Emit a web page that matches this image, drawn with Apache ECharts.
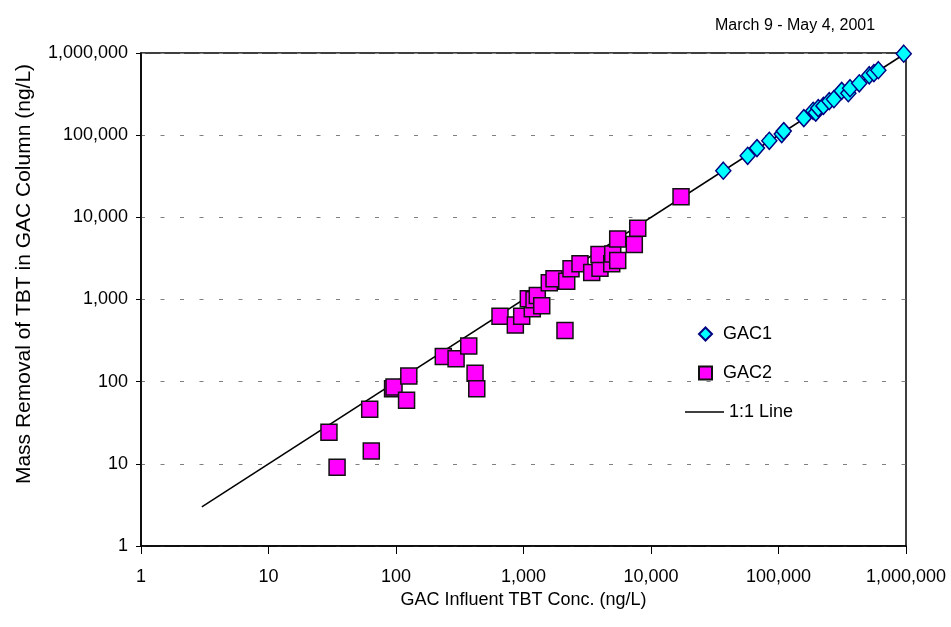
<!DOCTYPE html>
<html>
<head>
<meta charset="utf-8">
<script src="https://cdn.jsdelivr.net/npm/echarts@6/dist/echarts.min.js"></script>
<style>
html,body{margin:0;padding:0;background:#fff;}
#c{width:951px;height:627px;}
</style>
</head>
<body>
<div id="c"></div>
<script>
// GAC1 data (influent conc., mass removal) in ng/L
var gac1X = [36900, 57300, 67800, 84700, 106000, 110000, 158000, 187000, 196000, 205000, 225000, 250000, 272000, 313000, 353000, 364000, 430000, 515000, 560000, 607000, 960000];
var gac1Y = [36900, 56100, 69600, 85400, 103000, 112000, 161000, 198000, 188000, 213000, 227000, 260000, 274000, 346000, 324000, 373000, 428000, 536000, 570000, 617000, 980000];
// GAC2 data
var gac2X = [29.8, 34.5, 62.2, 64, 94, 96.5, 121, 126, 235, 296, 372, 417, 430, 654, 863, 968, 1172, 1091, 1209, 1283, 1390, 1593, 1735, 2183, 2115, 2359, 2774, 3427, 3981, 3910, 4920, 5010, 5482, 5482, 7398, 7870, 17200];
var gac2Y = [24.2, 9.1, 46.1, 14.3, 82, 86, 59.4, 117, 203, 190, 271, 127, 82, 627, 488, 627, 771, 1020, 991, 1119, 838, 1596, 1784, 1670, 420, 2360, 2716, 2128, 2400, 3523, 2716, 3590, 2978, 5460, 4658, 7350, 17800];
// 1:1 line end points
var lineX = [3, 1000000];
var lineY = [3, 1000000];

function pairs(xs, ys) { return xs.map(function (x, i) { return [x, ys[i]]; }); }
function fmt(v) {
  var r = Math.round(v);
  return r.toLocaleString('en-US');
}

var FONT = "'Liberation Sans', Arial, sans-serif";
var chart = echarts.init(document.getElementById('c'), null, {renderer: 'canvas'});
chart.setOption({
  backgroundColor: '#ffffff',
  animation: false,
  textStyle: {fontFamily: FONT, color: '#000'},
  title: {
    text: 'March 9 - May 4, 2001',
    left: 710, top: 13,
    textStyle: {fontFamily: FONT, fontSize: 16, fontWeight: 'normal', color: '#000'}
  },
  graphic: [{
    type: 'text',
    x: 24, y: 274,
    rotation: Math.PI / 2,
    style: {
      text: 'Mass Removal of TBT in GAC Column (ng/L)',
      font: "21px 'Liberation Sans', Arial, sans-serif",
      fill: '#000', align: 'center', verticalAlign: 'middle'
    }
  }],
  grid: {left: 141, right: 45, top: 53, bottom: 81, show: true, borderColor: '#000', borderWidth: 1.5, backgroundColor: 'transparent'},
  legend: [{
    data: ['GAC1', 'GAC2'],
    orient: 'vertical',
    left: 693, top: 320,
    itemWidth: 13, itemHeight: 13, itemGap: 21,
    textStyle: {fontFamily: FONT, fontSize: 18, color: '#000', padding: [0, 0, 0, 6]}
  }, {
    data: [{name: '1:1 Line', icon: 'path://M0,0L40,0L40,1.5L0,1.5Z', itemStyle: {color: '#000'}}],
    orient: 'vertical',
    left: 680, top: 398,
    itemWidth: 39, itemHeight: 1.5,
    textStyle: {fontFamily: FONT, fontSize: 18, color: '#000'}
  }],
  xAxis: {
    type: 'log', logBase: 10, min: 1, max: 1000000, splitNumber: 6,
    name: 'GAC Influent TBT Conc. (ng/L)',
    nameLocation: 'middle', nameGap: 44,
    nameTextStyle: {fontFamily: FONT, fontSize: 18, color: '#000'},
    axisLine: {show: true, lineStyle: {color: '#000', width: 1.5}},
    axisTick: {show: true, length: 8, lineStyle: {color: '#000', width: 1}},
    minorTick: {show: false},
    axisLabel: {margin: 22, fontFamily: FONT, fontSize: 18, color: '#000', formatter: fmt},
    splitLine: {show: false}
  },
  yAxis: {
    type: 'log', logBase: 10, min: 1, max: 1000000, splitNumber: 6,
    axisLine: {show: true, lineStyle: {color: '#000', width: 1.5}},
    axisTick: {show: true, length: 5, lineStyle: {color: '#000', width: 1}},
    minorTick: {show: false},
    axisLabel: {margin: 13, fontFamily: FONT, fontSize: 18, color: '#000', formatter: fmt},
    splitLine: {show: true, lineStyle: {color: '#808080', width: 1.2, type: [4, 15.5]}}
  },
  series: [
    {
      name: '1:1 Line', type: 'line', data: pairs(lineX, lineY),
      symbol: 'none', showSymbol: false, z: 1,
      lineStyle: {color: '#000', width: 1.5},
      itemStyle: {color: '#000'}
    },
    {
      name: 'GAC2', type: 'scatter', data: pairs(gac2X, gac2Y),
      symbol: 'rect', symbolSize: 16, z: 3,
      itemStyle: {color: '#ff00ff', borderColor: '#111', borderWidth: 1.5, opacity: 1}
    },
    {
      name: 'GAC1', type: 'scatter', data: pairs(gac1X, gac1Y),
      symbol: 'diamond', symbolSize: [15, 17], z: 4,
      itemStyle: {color: '#00ffff', borderColor: '#000080', borderWidth: 1.5, opacity: 1}
    }
  ]
});
</script>
</body>
</html>
